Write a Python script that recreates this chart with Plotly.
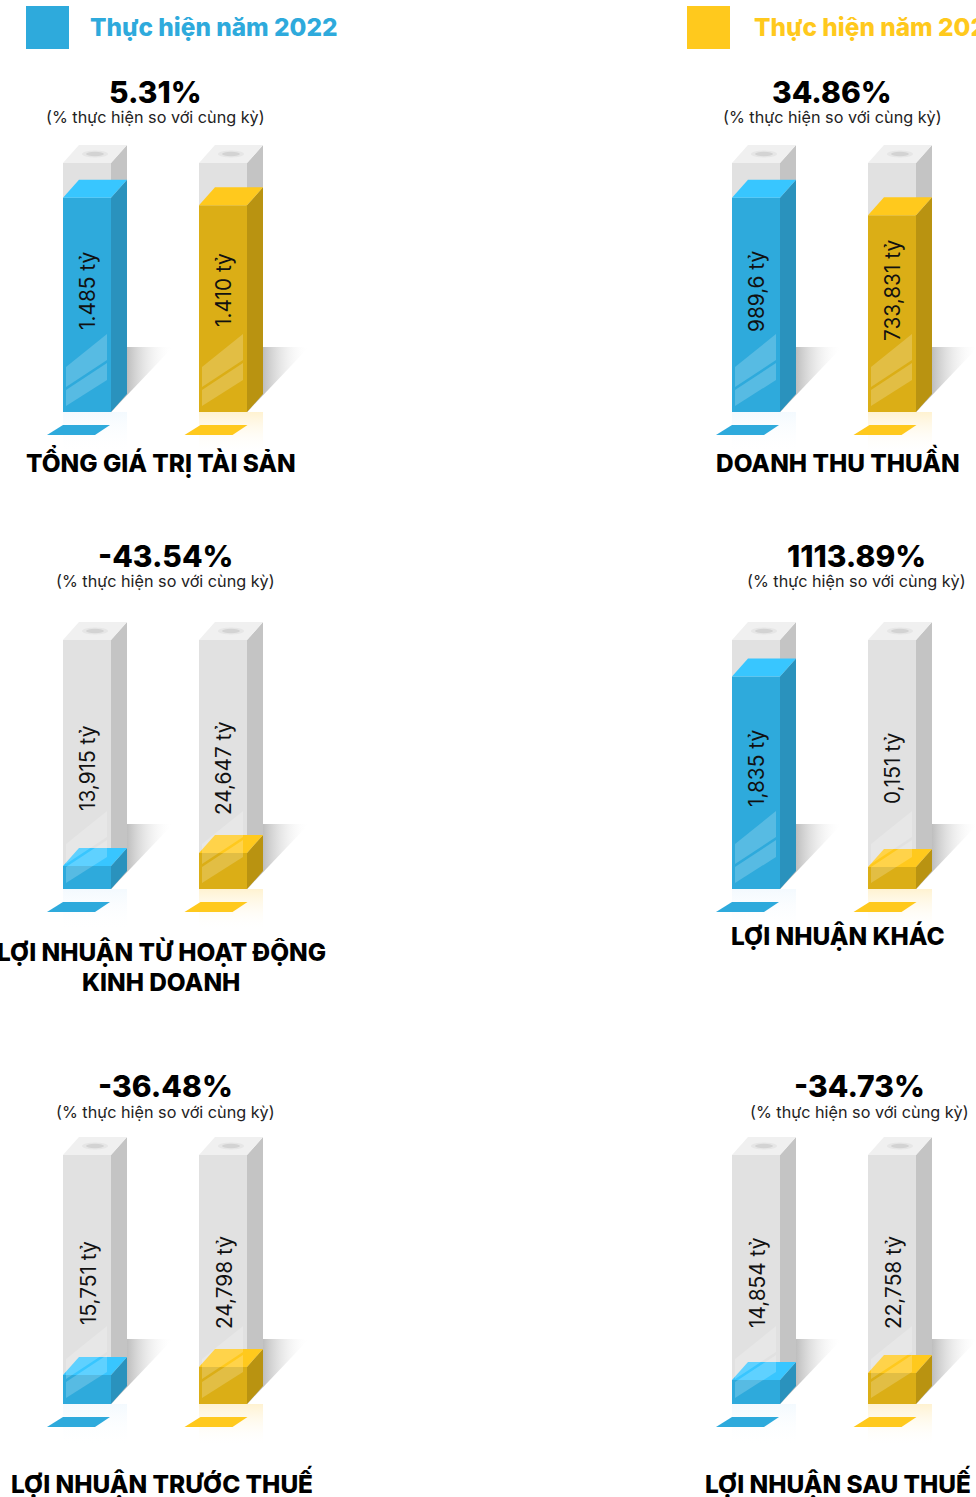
import plotly.graph_objects as go

W, H = 976, 1497
FONT = "Inter"

legend_names = ["Thực hiện năm 2022", "Thực hiện năm 2023"]
titles = [["TỔNG GIÁ TRỊ TÀI SẢN"], ["DOANH THU THUẦN"],
          ["LỢI NHUẬN TỪ HOẠT ĐỘNG", "KINH DOANH"], ["LỢI NHUẬN KHÁC"],
          ["LỢI NHUẬN TRƯỚC THUẾ"], ["LỢI NHUẬN SAU THUẾ"]]
changes = ["5.31%", "34.86%", "-43.54%", "1113.89%", "-36.48%", "-34.73%"]
subtitle = "(% thực hiện so với cùng kỳ)"
labels_2022 = ["1.485 tỷ", "989,6 tỷ", "13,915 tỷ", "1,835 tỷ", "15,751 tỷ", "14,854 tỷ"]
labels_2023 = ["1.410 tỷ", "733,831 tỷ", "24,647 tỷ", "0,151 tỷ", "24,798 tỷ", "22,758 tỷ"]
# fill level of each column, in percent of the column height, as drawn
fill_2022 = [86.0, 86.0, 9.2, 85.3, 11.6, 9.6]
fill_2023 = [83.0, 79.0, 14.5, 8.8, 14.9, 12.4]
column_full = 100

BLUE = dict(front="#2eaadc", top="#38c6ff", side="#2a92bd", plate="#2eaadc", glow="rgba(190,225,250,0.18)")
YEL = dict(front="#dbae16", top="#ffc91d", side="#b99311", plate="#ffc91d", glow="rgba(255,215,110,0.32)")

PX_X = 136.0   # px per category step
PX_Y = 2.49    # px per percent
BW = 48 / PX_X
DX = 16 / PX_X
DY = 18 / PX_Y
BELOW = 42     # px of panel below the column base

# panel placement in page pixels
panel_left = [0, 669, 0, 669, 0, 669]
panel_right = [330, 976, 330, 976, 330, 976]
panel_base = [412, 412, 889, 889, 1404, 1404]
pct_pos = [(155, 92, 117.5), (832, 92, 117.5), (165, 556, 581.5), (856, 556, 581.5), (165, 1086, 1112), (859, 1086, 1112)]
title_pos = [(161, [461.5]), (838, [461]), (161, [952, 981.5]), (838, [936]), (161.5, [1482]), (838, [1482])]
label_dy = [(291, 290), (291, 291), (768, 768), (769, 769), (1283, 1283), (1283, 1283)]

fig = go.Figure()
annotations, shapes = [], []


def poly(ax, xs, ys, color, **kw):
    fig.add_trace(go.Scatter(x=xs, y=ys, xaxis=ax[0], yaxis=ax[1], mode="lines", fill="toself",
                             fillcolor=color, line=dict(width=0), hoverinfo="skip",
                             showlegend=False, **kw))


def note(x, y, text, size, color="#000000", bold=True, anchor="center", weight=None):
    annotations.append(dict(xref="paper", yref="paper", x=x / W, y=1 - y / H, text=text, showarrow=False,
                            xanchor=anchor, yanchor="middle",
                            font=dict(family=FONT, size=size, color=color, weight=weight or (800 if bold else 400))))


for i in range(6):
    n = "" if i == 0 else str(i + 1)
    xa, ya = "x" + n, "y" + n
    base = panel_base[i]
    left, right = panel_left[i], panel_right[i]
    centre = left + 87
    top_px, bot_px = base - 272, base + BELOW
    fig.update_layout({
        "xaxis" + n: dict(domain=[left / W, right / W], range=[(left - centre) / PX_X, (right - centre) / PX_X],
                          visible=False, fixedrange=True, anchor=ya),
        "yaxis" + n: dict(domain=[1 - bot_px / H, 1 - top_px / H], range=[-BELOW / PX_Y, 272 / PX_Y],
                          visible=False, fixedrange=True, anchor=xa),
    })
    ax = (xa, ya)
    levels = [fill_2022[i], fill_2023[i]]
    cols = [BLUE, YEL]

    fig.add_trace(go.Bar(x=[0, 1], y=[column_full, column_full], width=BW, xaxis=xa, yaxis=ya,
                         marker=dict(color="#e1e1e1", line=dict(width=0)), hoverinfo="skip", showlegend=False))
    fig.add_trace(go.Bar(x=[0, 1], y=levels, width=BW, xaxis=xa, yaxis=ya,
                         marker=dict(color=[c["front"] for c in cols], line=dict(width=0)),
                         hoverinfo="skip", showlegend=False))

    for j, (lev, c) in enumerate(zip(levels, cols)):
        xl, xr = j - BW / 2, j + BW / 2
        # cast shadow
        fig.add_trace(go.Scatter(
            x=[xr, xr + DX, xr + DX + 46 / PX_X, xr + DX, xr], y=[0, 65 / PX_Y, 65 / PX_Y, 0 + 17 / PX_Y, 0],
            xaxis=xa, yaxis=ya, mode="lines", fill="toself", line=dict(width=0), hoverinfo="skip", showlegend=False,
            fillgradient=dict(type="horizontal", start=xr + DX, stop=xr + DX + 46 / PX_X,
                              colorscale=[[0, "rgba(190,190,190,1)"], [1, "rgba(255,255,255,0)"]])))
        # reflection below the column
        fig.add_trace(go.Scatter(
            x=[xl, xr + DX, xr + DX, xl, xl], y=[0, 0, -BELOW / PX_Y, -BELOW / PX_Y, 0],
            xaxis=xa, yaxis=ya, mode="lines", fill="toself", line=dict(width=0), hoverinfo="skip", showlegend=False,
            fillgradient=dict(type="vertical", start=-BELOW / PX_Y, stop=0,
                              colorscale=[[0, "rgba(255,255,255,0)"], [1, c["glow"]]])))
        # empty column: side and top
        poly(ax, [xr, xr + DX, xr + DX, xr, xr], [0, DY, column_full + DY, column_full, 0], "#c4c4c4")
        poly(ax, [xl, xr, xr + DX, xl + DX, xl], [column_full, column_full, column_full + DY, column_full + DY, column_full], "#f0f0f0")
        # filled part: side and top
        poly(ax, [xr, xr + DX, xr + DX, xr, xr], [0, DY, lev + DY, lev, 0], c["side"])
        poly(ax, [xl, xr, xr + DX, xl + DX, xl], [lev, lev, lev + DY, lev + DY, lev], c["top"])
        # glare strips
        gx0, gx1 = xl + 3 / PX_X, xr - 4 / PX_X
        poly(ax, [gx0, gx1, gx1, gx0, gx0], [25 / PX_Y, 52 / PX_Y, 78 / PX_Y, 45 / PX_Y, 25 / PX_Y], "rgba(255,255,255,0.2)")
        poly(ax, [gx0, gx1, gx1, gx0, gx0], [6 / PX_Y, 32 / PX_Y, 49 / PX_Y, 22 / PX_Y, 6 / PX_Y], "rgba(255,255,255,0.2)")
        # floor plate
        px = j + j * 1.5 / PX_X
        poly(ax, [px - 40 / PX_X, px + 8 / PX_X, px + 23 / PX_X, px - 24 / PX_X, px - 40 / PX_X],
             [-23 / PX_Y, -23 / PX_Y, -13 / PX_Y, -13 / PX_Y, -23 / PX_Y], c["plate"])
        # hole on the column top
        hx = j + 8 / PX_X
        for rx, ry, col in [(13, 3.5, "#e6e6e6"), (9, 2.2, "#d3d3d3")]:
            shapes.append(dict(type="circle", xref=xa, yref=ya, x0=hx - rx / PX_X, x1=hx + rx / PX_X,
                               y0=column_full + (9 - ry) / PX_Y, y1=column_full + (9 + ry) / PX_Y,
                               fillcolor=col, line=dict(width=0), layer="above"))
        # value label
        lab = (labels_2022 if j == 0 else labels_2023)[i]
        annotations.append(dict(xref=xa, yref=ya, x=j + 1 / PX_X, y=(base - label_dy[i][j]) / PX_Y, text=lab,
                                showarrow=False, textangle=-90, xanchor="center", yanchor="middle",
                                font=dict(family=FONT, size=20.8, color="#111111", weight=400)))

    cx, y1, y2 = pct_pos[i]
    note(cx, y1, changes[i], 30)
    note(cx, y2, subtitle, 16.2, color="#222222", bold=False)
    tx, tys = title_pos[i]
    for line, ty in zip(titles[i], tys):
        note(tx, ty, line, 24.4)

# legend
for x0, name, col, tx in [(26, legend_names[0], BLUE["front"], 88), (687, legend_names[1], YEL["top"], 752)]:
    shapes.append(dict(type="rect", xref="paper", yref="paper", x0=x0 / W, x1=(x0 + 43) / W,
                       y0=1 - 49 / H, y1=1 - 6 / H, fillcolor=col, line=dict(width=0)))
    note(tx, 26.5, name, 24.4, color=col, anchor="left")

fig.update_layout(width=W, height=H, margin=dict(l=0, r=0, t=0, b=0), barmode="overlay",
                  paper_bgcolor="white", plot_bgcolor="rgba(0,0,0,0)", showlegend=False,
                  annotations=annotations, shapes=shapes)
fig.write_html("out.html", config={"displayModeBar": False},
               post_script="document.body.style.margin='0';document.body.style.overflow='hidden';")
